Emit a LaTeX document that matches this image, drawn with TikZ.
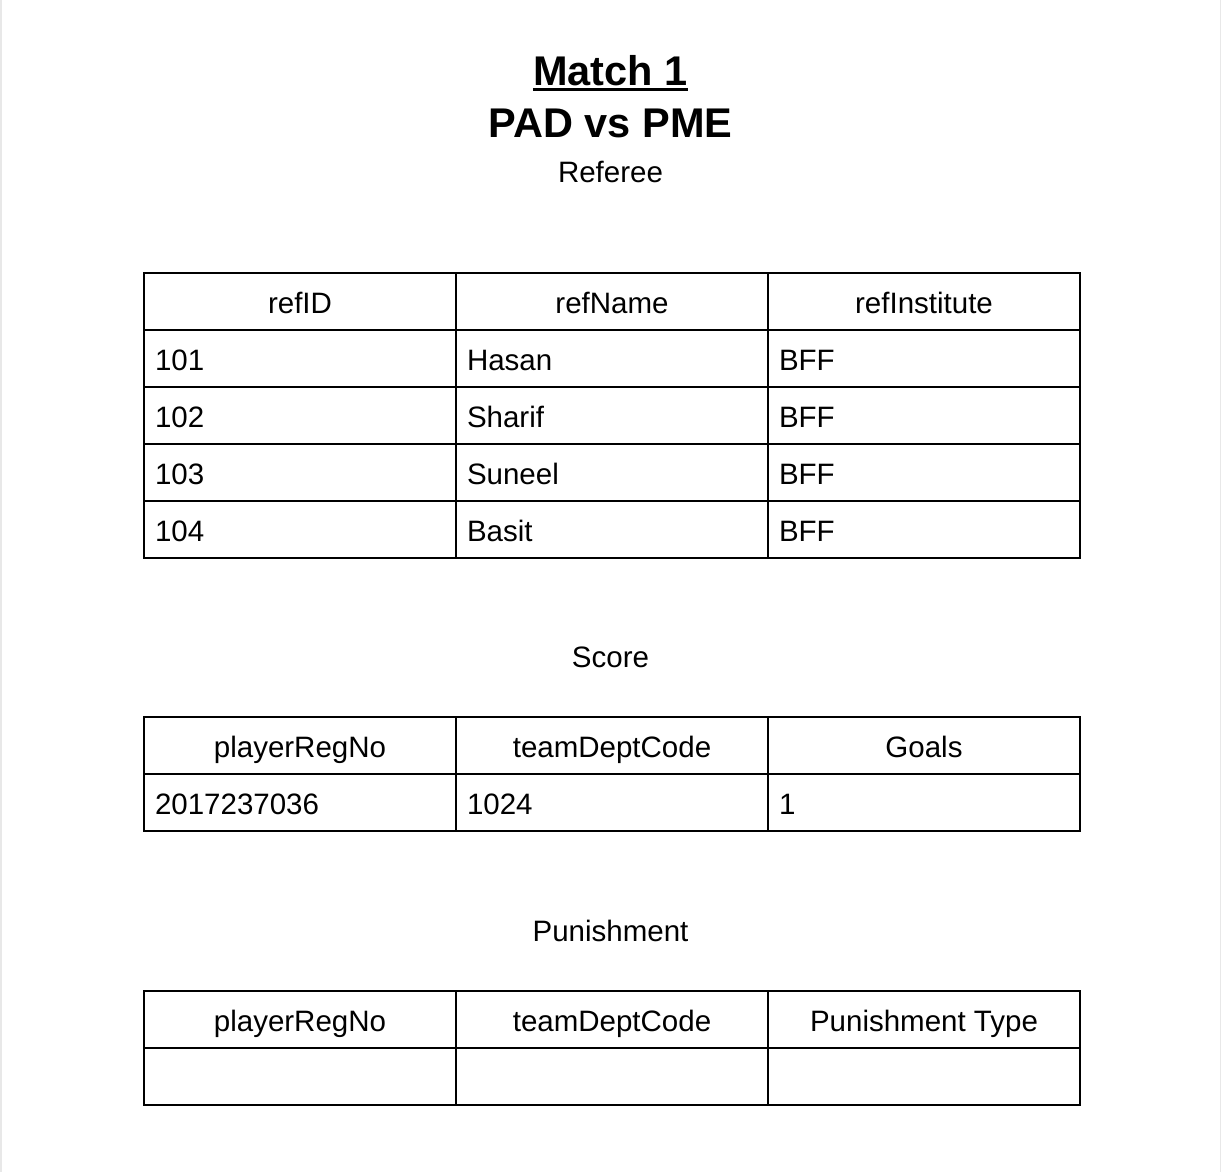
\documentclass[tikz,border=0pt]{standalone}
\usepackage{fontspec}
\setmainfont{Liberation Sans}
\usetikzlibrary{positioning}

\begin{document}
\begin{tikzpicture}[x=0.5pt,y=-0.5pt]
	\tikzset{
		cell/.style={draw,line width=1pt,outer sep=0pt,inner sep=0pt,minimum width=156pt,minimum height=28.5pt,text height=12.2pt,text depth=0pt,font=\fontsize{14.75}{17}\selectfont},
		headCell/.style={cell,align=center},
		dataCell/.style={cell,text width=145pt,align=left},
		caption/.style={anchor=base,inner sep=0pt,font=\fontsize{14.75}{17}\selectfont},
		title/.style={anchor=base,inner sep=0pt,font=\fontsize{20.75}{24}\selectfont\bfseries}
	}
	\fill[white] (0,0) rectangle (1224,1172);
	\useasboundingbox (0,0) rectangle (1224,1172);
	\draw[black!9,line width=1pt] (1,0) -- (1,1172);
	\draw[black!9,line width=0.75pt] (1220.5,0) -- (1220.5,1172);
	
	% Heading
	\node[title] (matchTitle) at (610.5,85) {Match 1};
	\draw[line width=1.5pt] ([yshift=-2.2pt]matchTitle.base west) -- ([yshift=-2.2pt]matchTitle.base east);
	\node[title] (teamsTitle) at (610.5,137) {PAD vs PME};
	
	% Referee table
	\node[caption] (refCaption) at (610.5,182) {Referee};
	\node[headCell] (refHead1) at (300,301) {refID};
	\node[headCell, right=0 of refHead1] (refHead2) {refName};
	\node[headCell, right=0 of refHead2] (refHead3) {refInstitute};
	\foreach \id/\name [count=\r] in {101/Hasan,102/Sharif,103/Suneel,104/Basit}{
		\node[dataCell] (refID\r) at (300,{301+57*\r}) {\id};
		\node[dataCell, right=0 of refID\r] (refName\r) {\name};
		\node[dataCell, right=0 of refName\r] (refInst\r) {BFF};
	}
	
	% Score table
	\node[caption] (scoreCaption) at (610.5,667) {Score};
	\node[headCell] (scoreHead1) at (300,745.5) {playerRegNo};
	\node[headCell, right=0 of scoreHead1] (scoreHead2) {teamDeptCode};
	\node[headCell, right=0 of scoreHead2] (scoreHead3) {Goals};
	\node[dataCell, below=0 of scoreHead1] (scoreReg1) {2017237036};
	\node[dataCell, right=0 of scoreReg1] (scoreDept1) {1024};
	\node[dataCell, right=0 of scoreDept1] (scoreGoals1) {1};
	
	% Punishment table
	\node[caption] (punCaption) at (610.5,941) {Punishment};
	\node[headCell] (punHead1) at (300,1019.5) {playerRegNo};
	\node[headCell, right=0 of punHead1] (punHead2) {teamDeptCode};
	\node[headCell, right=0 of punHead2] (punHead3) {Punishment Type};
	\node[dataCell, below=0 of punHead1] (punReg1) {};
	\node[dataCell, right=0 of punReg1] (punDept1) {};
	\node[dataCell, right=0 of punDept1] (punType1) {};
	
\end{tikzpicture}
\end{document}
